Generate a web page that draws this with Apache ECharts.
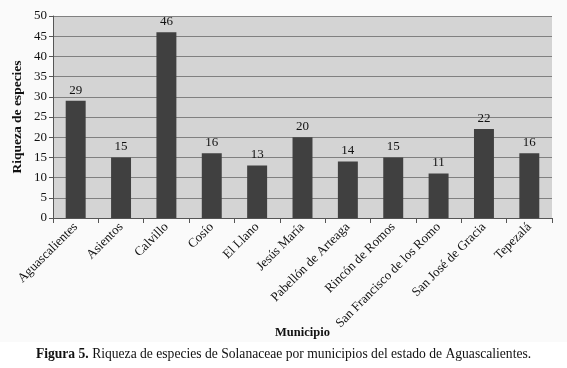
<!DOCTYPE html>
<html>
<head>
<meta charset="utf-8">
<script src="https://cdn.jsdelivr.net/npm/echarts@6/dist/echarts.min.js"></script>
<style>
  html, body { margin: 0; padding: 0; background: #fff; }
  #chart { width: 567px; height: 368px; }
</style>
</head>
<body>
<div id="chart"></div>
<script>
// municipios y riqueza de especies
const municipios = ['Aguascalientes', 'Asientos', 'Calvillo', 'Cosío', 'El Llano', 'Jesús María',
  'Pabellón de Arteaga', 'Rincón de Romos', 'San Francisco de los Romo', 'San José de Gracia', 'Tepezalá']
const riqueza = [29, 15, 46, 16, 13, 20, 14, 15, 11, 22, 16]
const yTicks = [0, 50, 5] // min, max, intervalo

const FONT = '"Liberation Serif", "DejaVu Serif", serif'

const myChart = echarts.init(document.getElementById('chart'))
const option = {
  animation: false,
  textStyle: { fontFamily: FONT },
  graphic: [
    { type: 'rect', z: -10, shape: { x: 0, y: 0, width: 567, height: 342 }, style: { fill: '#fafafa' } }
  ],
  title: {
    text: '{b|Figura 5.} Riqueza de especies de Solanaceae por municipios del estado de Aguascalientes.',
    left: 'center',
    top: 342,
    textStyle: {
      fontFamily: FONT,
      fontWeight: 'normal',
      fontSize: 13.6,
      color: '#111',
      rich: {
        b: { fontFamily: FONT, fontWeight: 'bold', fontSize: 13.6, color: '#111' }
      }
    }
  },
  grid: {
    left: 53,
    right: 15,
    top: 16,
    bottom: 150,
    show: true,
    backgroundColor: '#d4d4d4',
    borderWidth: 0
  },
  xAxis: {
    type: 'category',
    data: municipios,
    name: 'Municipio',
    nameLocation: 'middle',
    nameGap: 108,
    nameMoveOverlap: false,
    nameTextStyle: { fontFamily: FONT, fontWeight: 'bold', fontSize: 12.5, color: '#111' },
    axisLine: { lineStyle: { color: '#555' } },
    axisTick: { show: true, alignWithLabel: false, length: 5, lineStyle: { color: '#555' } },
    axisLabel: {
      rotate: 45,
      interval: 0,
      margin: 7,
      fontFamily: FONT,
      fontSize: 13,
      color: '#111'
    }
  },
  yAxis: {
    type: 'value',
    min: yTicks[0],
    max: yTicks[1],
    interval: yTicks[2],
    name: 'Riqueza de especies',
    nameLocation: 'middle',
    nameGap: 28,
    nameMoveOverlap: false,
    nameTextStyle: { fontFamily: FONT, fontWeight: 'bold', fontSize: 13.5, color: '#111' },
    axisLine: { show: true, lineStyle: { color: '#555' } },
    axisTick: { show: true, length: 4, lineStyle: { color: '#555' } },
    axisLabel: { fontFamily: FONT, fontSize: 13, color: '#111', margin: 6 },
    splitLine: { lineStyle: { color: '#808080', width: 1 } }
  },
  series: [
    {
      type: 'bar',
      data: riqueza,
      barWidth: '44%',
      itemStyle: { color: '#404040' },
      label: {
        show: true,
        position: 'top',
        distance: 4,
        fontFamily: FONT,
        fontSize: 13,
        color: '#111'
      }
    }
  ]
}
myChart.setOption(option)
</script>
</body>
</html>
